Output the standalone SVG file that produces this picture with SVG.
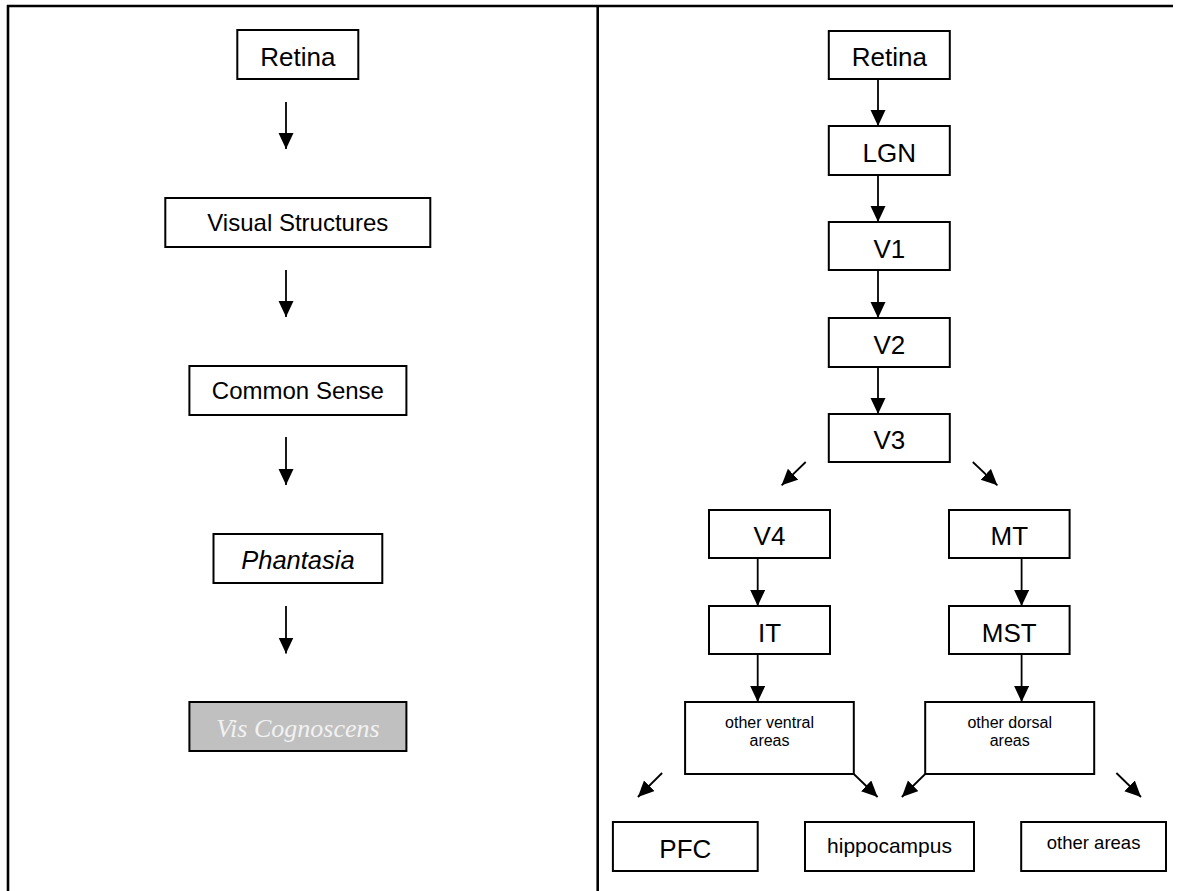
<svg xmlns="http://www.w3.org/2000/svg" width="1182" height="891" viewBox="0 0 1182 891">
<style>
.bg{fill:#fff}
.frame{stroke:#000;stroke-width:2.6;fill:none}
.box{fill:#fff;stroke:#000;stroke-width:2}
.grey{fill:#c0c0c0;stroke:#000;stroke-width:2}
.t{font-family:"Liberation Sans",Arial,sans-serif;fill:#000;text-anchor:middle}
.it{font-style:italic}
.vc{font-family:"Liberation Serif","Times New Roman",serif;font-style:italic;fill:#f2f2f2;text-anchor:middle;font-size:26px}
.conn line{stroke:#000;stroke-width:1.8;marker-end:url(#ah)}
</style>
<defs>
<marker id="ah" markerUnits="userSpaceOnUse" markerWidth="17" markerHeight="16" refX="16" refY="7.5" orient="auto">
<path d="M0,0 L16,7.5 L0,15 z" fill="#000"/>
</marker>
</defs>
<rect class="bg" x="0" y="0" width="1182" height="891"/>
<g id="frame">
<line class="frame" x1="7" y1="6" x2="1173" y2="6"/>
<line class="frame" x1="8" y1="5" x2="8" y2="891"/>
<line class="frame" x1="597.7" y1="5" x2="597.7" y2="891"/>
</g>
<g id="connectors" class="conn">
<line x1="286" y1="102" x2="286" y2="149"/>
<line x1="286" y1="270" x2="286" y2="317"/>
<line x1="286" y1="437" x2="286" y2="485"/>
<line x1="286" y1="606" x2="286" y2="653.5"/>
<line x1="878" y1="79" x2="878" y2="126"/>
<line x1="878" y1="175" x2="878" y2="222"/>
<line x1="878" y1="270" x2="878" y2="318"/>
<line x1="878" y1="367" x2="878" y2="414"/>
<line x1="805.7" y1="462" x2="781.6" y2="485.3"/>
<line x1="972.8" y1="462" x2="997.4" y2="485.3"/>
<line x1="757.7" y1="558" x2="757.7" y2="606"/>
<line x1="1021.6" y1="558" x2="1021.6" y2="606"/>
<line x1="757.7" y1="654" x2="757.7" y2="702"/>
<line x1="1021.6" y1="654" x2="1021.6" y2="702"/>
<line x1="662.1" y1="773" x2="637.9" y2="797"/>
<line x1="853.8" y1="774" x2="877.6" y2="797"/>
<line x1="925.2" y1="774" x2="901.8" y2="797"/>
<line x1="1116.4" y1="773" x2="1141" y2="797"/>
</g>
<g id="l-retina"><rect class="box" x="237.3" y="30" width="121" height="49"/><text class="t" x="297.8" y="65.5" font-size="26">Retina</text></g>
<g id="l-visual"><rect class="box" x="165.3" y="198" width="265" height="49"/><text class="t" x="297.8" y="231" font-size="24">Visual Structures</text></g>
<g id="l-common"><rect class="box" x="189.4" y="366" width="217" height="49"/><text class="t" x="297.9" y="399" font-size="24">Common Sense</text></g>
<g id="l-phantasia"><rect class="box" x="213.5" y="534" width="168.8" height="49"/><text class="t it" x="297.9" y="568.5" font-size="25.5">Phantasia</text></g>
<g id="l-vis"><rect class="grey" x="189.4" y="702" width="217" height="49"/><text class="vc" x="297.9" y="736.5">Vis Cognoscens</text></g>
<g id="r-retina"><rect class="box" x="828.8" y="31" width="121" height="48"/><text class="t" x="889.3" y="65.5" font-size="26">Retina</text></g>
<g id="r-lgn"><rect class="box" x="828.8" y="126" width="121" height="49"/><text class="t" x="889.3" y="161.5" font-size="26">LGN</text></g>
<g id="r-v1"><rect class="box" x="828.8" y="222" width="121" height="48"/><text class="t" x="889.3" y="257.5" font-size="26">V1</text></g>
<g id="r-v2"><rect class="box" x="828.8" y="318" width="121" height="49"/><text class="t" x="889.3" y="353.5" font-size="26">V2</text></g>
<g id="r-v3"><rect class="box" x="828.8" y="414" width="121" height="48"/><text class="t" x="889.3" y="449" font-size="26">V3</text></g>
<g id="r-v4"><rect class="box" x="709" y="510" width="121" height="48"/><text class="t" x="769.5" y="545" font-size="26">V4</text></g>
<g id="r-mt"><rect class="box" x="949" y="510" width="120.6" height="48"/><text class="t" x="1009.3" y="545" font-size="26">MT</text></g>
<g id="r-it"><rect class="box" x="709" y="606" width="121" height="48"/><text class="t" x="769.5" y="641.5" font-size="26">IT</text></g>
<g id="r-mst"><rect class="box" x="949" y="606" width="120.6" height="48"/><text class="t" x="1009.3" y="641.5" font-size="26">MST</text></g>
<g id="r-ventral"><rect class="box" x="685.1" y="702" width="168.7" height="72"/><text class="t" x="769.5" y="728.3" font-size="16">other ventral</text><text class="t" x="769.5" y="746.3" font-size="16">areas</text></g>
<g id="r-dorsal"><rect class="box" x="925.2" y="702" width="169" height="72"/><text class="t" x="1009.7" y="728.3" font-size="16">other dorsal</text><text class="t" x="1009.7" y="746.3" font-size="16">areas</text></g>
<g id="r-pfc"><rect class="box" x="612.9" y="822" width="144.8" height="49"/><text class="t" x="685.3" y="857.7" font-size="26">PFC</text></g>
<g id="r-hippo"><rect class="box" x="805" y="822" width="169" height="49"/><text class="t" x="889.5" y="852.7" font-size="21">hippocampus</text></g>
<g id="r-other"><rect class="box" x="1021.2" y="822" width="144.8" height="49"/><text class="t" x="1093.6" y="849.3" font-size="18.5">other areas</text></g>
</svg>
